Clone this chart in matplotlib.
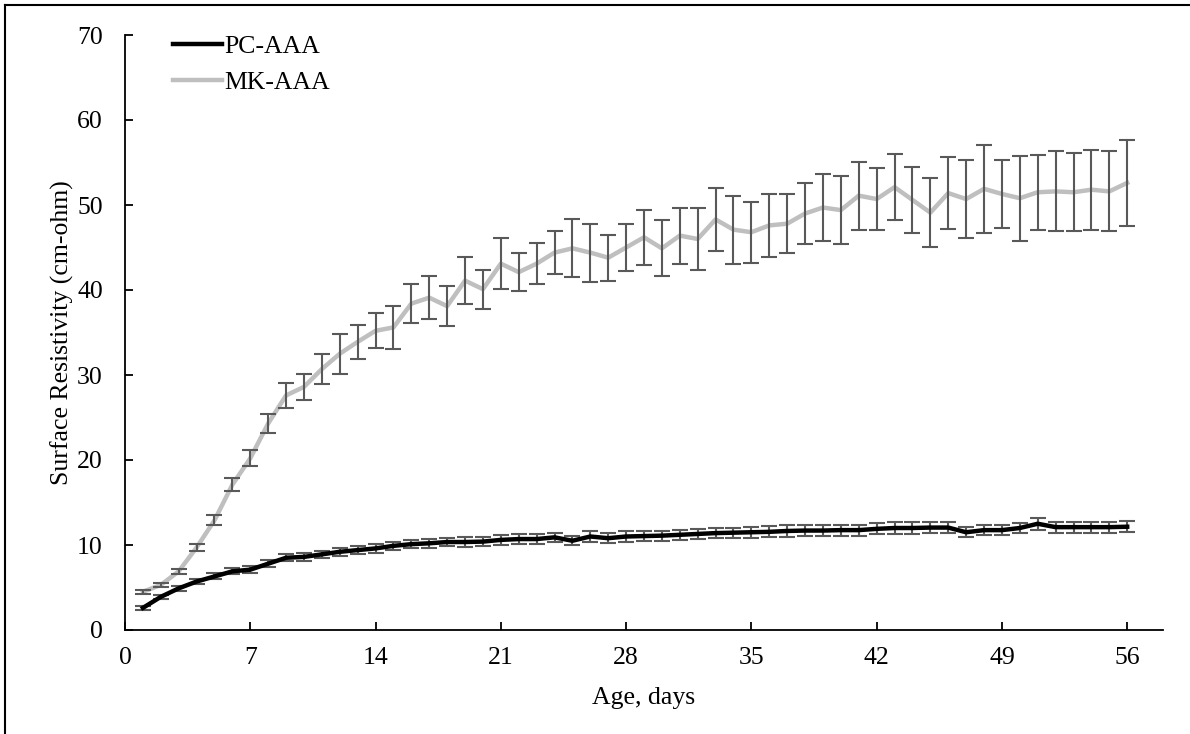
import matplotlib
matplotlib.use("Agg")
import matplotlib.pyplot as plt
from matplotlib.lines import Line2D
import numpy as np

plt.rcParams['font.family'] = ['Liberation Serif', 'DejaVu Serif']

days = list(range(1, 57))

pc_aaa = [2.6, 3.9, 4.9, 5.7, 6.3, 6.9, 7.1, 7.8, 8.5, 8.6,
          8.9, 9.2, 9.4, 9.6, 9.9, 10.1, 10.2, 10.35, 10.35, 10.4,
          10.6, 10.7, 10.7, 10.9, 10.5, 11.0, 10.8, 11.0, 11.05, 11.1,
          11.2, 11.3, 11.4, 11.45, 11.5, 11.55, 11.65, 11.7, 11.7, 11.75,
          11.75, 11.9, 12.0, 12.0, 12.05, 12.05, 11.5, 11.75, 11.75, 12.0,
          12.5, 12.1, 12.1, 12.1, 12.1, 12.15]
pc_err = [0.2, 0.25, 0.3, 0.3, 0.35, 0.35, 0.4, 0.4, 0.4, 0.45,
          0.45, 0.45, 0.45, 0.5, 0.5, 0.5, 0.5, 0.5, 0.55, 0.55,
          0.55, 0.55, 0.55, 0.55, 0.55, 0.6, 0.6, 0.6, 0.6, 0.6,
          0.6, 0.6, 0.6, 0.6, 0.65, 0.65, 0.65, 0.65, 0.65, 0.65,
          0.65, 0.65, 0.65, 0.65, 0.65, 0.65, 0.6, 0.6, 0.6, 0.6,
          0.7, 0.65, 0.65, 0.65, 0.65, 0.65]

mk_aaa = [4.5, 5.3, 6.9, 9.7, 12.9, 17.1, 20.2, 24.3, 27.6, 28.6,
          30.7, 32.5, 33.9, 35.2, 35.6, 38.4, 39.1, 38.1, 41.1, 40.1,
          43.1, 42.1, 43.1, 44.4, 44.9, 44.4, 43.8, 45.0, 46.2, 44.9,
          46.4, 46.0, 48.3, 47.1, 46.8, 47.6, 47.8, 49.0, 49.7, 49.4,
          51.1, 50.7, 52.1, 50.6, 49.1, 51.4, 50.7, 51.9, 51.3, 50.8,
          51.5, 51.6, 51.5, 51.8, 51.6, 52.6]
mk_err = [0.25, 0.25, 0.33, 0.45, 0.6, 0.8, 0.96, 1.08, 1.5, 1.5,
          1.8, 2.35, 2.0, 2.06, 2.55, 2.25, 2.5, 2.35, 2.8, 2.3,
          3.0, 2.2, 2.4, 2.55, 3.4, 3.4, 2.7, 2.8, 3.2, 3.3,
          3.3, 3.7, 3.7, 4.0, 3.6, 3.75, 3.5, 3.6, 3.9, 4.0,
          4.0, 3.6, 3.9, 3.9, 4.06, 4.2, 4.6, 5.2, 4.0, 5.0,
          4.4, 4.7, 4.6, 4.7, 4.7, 5.1]

xticks = [0, 7, 14, 21, 28, 35, 42, 49, 56]
yticks = [0, 10, 20, 30, 40, 50, 60, 70]

W, H = 1190, 734
FS = 18.5
fig = plt.figure(figsize=(W / 100, H / 100), dpi=100)
ax = fig.add_axes([125 / W, 1 - 630 / H, (1163 - 125) / W, (630 - 35) / H])

err_col = '#595959'
ax.errorbar(days, pc_aaa, yerr=pc_err, fmt='none', ecolor=err_col,
            elinewidth=1.5, capsize=6, capthick=1.5, zorder=2)
ax.plot(days, pc_aaa, color='black', lw=3.2, zorder=3, label='PC-AAA',
        solid_joinstyle='round')
ax.plot(days, mk_aaa, color='#BFBFBF', lw=3.2, zorder=4, label='MK-AAA',
        solid_joinstyle='round')
ax.errorbar(days, mk_aaa, yerr=mk_err, fmt='none', ecolor=err_col,
            elinewidth=1.5, capsize=6, capthick=1.5, zorder=5)

ax.set_xlim(0, 58)
ax.set_ylim(0, 70)
ax.set_xticks(xticks)
ax.set_yticks(yticks)
ax.tick_params(direction='in', length=6, width=1.3, labelsize=FS, colors='black')
ax.tick_params(axis='y', pad=16)
ax.tick_params(axis='x', pad=12)
for s in ['top', 'right']:
    ax.spines[s].set_visible(False)
for s in ['left', 'bottom']:
    ax.spines[s].set_linewidth(1.3)

ax.set_xlabel('Age, days', fontsize=FS, labelpad=13)
ax.set_ylabel('Surface Resistivity (cm-ohm)', fontsize=FS, labelpad=2)

leg = ax.legend(loc='upper left', bbox_to_anchor=(173 / W, 1 - 35 / H),
                bbox_transform=fig.transFigure, frameon=False, fontsize=FS,
                handlelength=1.9, handletextpad=0.1, labelspacing=0.5,
                borderpad=0, borderaxespad=0)

# figure border (top and left visible)
fig.add_artist(Line2D([5 / W, 5 / W], [0, 1 - 5 / H], color='black', lw=1.5,
                      transform=fig.transFigure))
fig.add_artist(Line2D([5 / W, 1], [1 - 5 / H, 1 - 5 / H], color='black', lw=1.5,
                      transform=fig.transFigure))

fig.savefig('out.png', dpi=100)
